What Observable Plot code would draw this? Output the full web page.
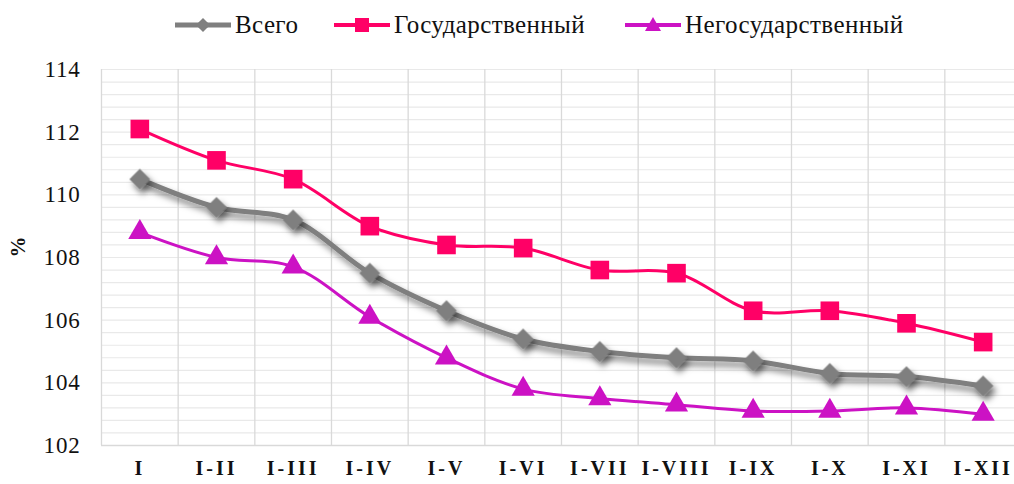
<!DOCTYPE html>
<html>
<head>
<meta charset="utf-8">
<script src="https://cdn.jsdelivr.net/npm/d3@7"></script>
<script src="https://cdn.jsdelivr.net/npm/@observablehq/plot@0.6"></script>
<style>
  html, body { margin: 0; padding: 0; background: #fff; }
  body { width: 1014px; height: 484px; overflow: hidden; font-family: 'Liberation Serif', 'DejaVu Serif', serif; }
  #legend { position: relative; height: 45px; width: 1014px; }
  #legend .item { position: absolute; top: 9px; height: 32px; display: flex; align-items: center; font-size: 25px; letter-spacing: 0.4px; color: #111; font-family: 'Liberation Serif', 'DejaVu Serif', serif; }
  #legend svg { display: block; margin-right: 4px; }
  #chart svg text { font-family: 'Liberation Serif', 'DejaVu Serif', serif; }
</style>
</head>
<body>
<div id="legend"></div>
<div id="chart"></div>
<script>
// ---- data ----
const categories = ["I", "I-II", "I-III", "I-IV", "I-V", "I-VI", "I-VII", "I-VIII", "I-IX", "I-X", "I-XI", "I-XII"];
const total    = [110.5, 109.6, 109.2, 107.5, 106.3, 105.4, 105.0, 104.8, 104.7, 104.3, 104.2, 103.9];
const state    = [112.1, 111.1, 110.5, 109.0, 108.4, 108.3, 107.6, 107.5, 106.3, 106.3, 105.9, 105.3];
const nonState = [108.8, 108.0, 107.7, 106.1, 104.8, 103.8, 103.5, 103.3, 103.1, 103.1, 103.2, 103.0];
const seriesNames = ["Всего", "Государственный", "Негосударственный"];
const yTicks = [102, 104, 106, 108, 110, 112, 114];

const colors = { total: "#7f7f7f", state: "#ff0066", nonState: "#cc12c4" };

const rows = (vals) => vals.map((v, i) => ({ i, v }));
const totalRows = rows(total), stateRows = rows(state), nonRows = rows(nonState);

// minor gridlines every 0.4
const gridY = d3.range(0, 31).map(k => +(102 + k * 0.4).toFixed(1));
const gridX = d3.range(-0.5, 11, 1);

// ---- legend ----
const legend = document.getElementById("legend");
const legendItems = [
  { name: seriesNames[0], color: colors.total, sym: "diamond", left: 175 },
  { name: seriesNames[1], color: colors.state, sym: "square", left: 334 },
  { name: seriesNames[2], color: colors.nonState, sym: "triangle", left: 625 }
];
legendItems.forEach(it => {
  const div = document.createElement("div");
  div.className = "item";
  div.style.left = it.left + "px";
  const ns = "http://www.w3.org/2000/svg";
  const s = document.createElementNS(ns, "svg");
  s.setAttribute("width", 56); s.setAttribute("height", 20);
  const ln = document.createElementNS(ns, "line");
  ln.setAttribute("x1", 0); ln.setAttribute("x2", 56); ln.setAttribute("y1", 10); ln.setAttribute("y2", 10);
  ln.setAttribute("stroke", it.color); ln.setAttribute("stroke-width", it.sym === "diamond" ? 5 : 4);
  s.appendChild(ln);
  let m;
  if (it.sym === "diamond") {
    m = document.createElementNS(ns, "rect");
    m.setAttribute("x", 23); m.setAttribute("y", 5); m.setAttribute("width", 10); m.setAttribute("height", 10);
    m.setAttribute("transform", "rotate(45 28 10)");
  } else if (it.sym === "square") {
    m = document.createElementNS(ns, "rect");
    m.setAttribute("x", 21); m.setAttribute("y", 3); m.setAttribute("width", 14); m.setAttribute("height", 14);
  } else {
    m = document.createElementNS(ns, "path");
    m.setAttribute("d", "M28,2 L36,16 L20,16 Z");
  }
  m.setAttribute("fill", it.color);
  s.appendChild(m);
  div.appendChild(s);
  const span = document.createElement("span");
  span.textContent = it.name;
  div.appendChild(span);
  legend.appendChild(div);
});

// ---- chart ----
const chart = Plot.plot({
  width: 1014,
  height: 439,
  marginTop: 24,
  marginBottom: 39,
  marginLeft: 101,
  marginRight: 0,
  style: { background: "#fff", overflow: "hidden" },
  x: { type: "linear", domain: [-0.5, 11.5], range: [101, 1021] },
  y: { domain: [102, 114] },
  marks: [
    Plot.ruleY(gridY, { stroke: "#e9e9e9", strokeWidth: 1.2 }),
    Plot.ruleX(gridX, { stroke: "#d9d9d9", strokeWidth: 1.3 }),
    Plot.ruleY([102], { stroke: "#d9d9d9", strokeWidth: 1.5 }),
    Plot.axisY({ ticks: yTicks, tickSize: 0, tickPadding: 21, fontSize: 23, label: null, tickFormat: d => String(d) }),
    Plot.axisX({ ticks: d3.range(categories.length), tickSize: 0, tickPadding: 15, fontSize: 20, fontWeight: "bold", label: null, tickFormat: i => categories[i] }),
    Plot.text(["%"], { frameAnchor: "left", dx: -83, rotate: -90, fontSize: 21, fontWeight: "bold", fill: "#111" }),
    Plot.line(totalRows, { x: "i", y: "v", stroke: colors.total, strokeWidth: 5, curve: "catmull-rom", ariaDescription: "total" }),
    Plot.dot(totalRows, { x: "i", y: "v", symbol: "square", r: 8.3, rotate: 45, fill: colors.total, ariaDescription: "total" }),
    Plot.line(stateRows, { x: "i", y: "v", stroke: colors.state, strokeWidth: 3, curve: "catmull-rom" }),
    Plot.dot(stateRows, { x: "i", y: "v", symbol: "square", r: 10.5, fill: colors.state }),
    Plot.line(nonRows, { x: "i", y: "v", stroke: colors.nonState, strokeWidth: 3, curve: "catmull-rom" }),
    Plot.dot(nonRows, { x: "i", y: "v", symbol: "triangle", r: 8.6, fill: colors.nonState })
  ]
});
document.getElementById("chart").appendChild(chart);

// drop shadow for the "Всего" series
const svg = d3.select(chart);
const defs = svg.insert("defs", ":first-child");
const f = defs.append("filter").attr("id", "shadow").attr("filterUnits", "userSpaceOnUse")
  .attr("x", 0).attr("y", 0).attr("width", 1014).attr("height", 439);
f.append("feDropShadow").attr("dx", 3).attr("dy", 5).attr("stdDeviation", 3).attr("flood-color", "#000").attr("flood-opacity", 0.5);
svg.selectAll('[aria-description="total"]').attr("filter", "url(#shadow)");
svg.selectAll('g[aria-label="x-axis tick label"] text').style("letter-spacing", "3px").attr("fill", "#111");
svg.selectAll('g[aria-label="y-axis tick label"] text').style("letter-spacing", "0.8px").attr("fill", "#111");
</script>
</body>
</html>
